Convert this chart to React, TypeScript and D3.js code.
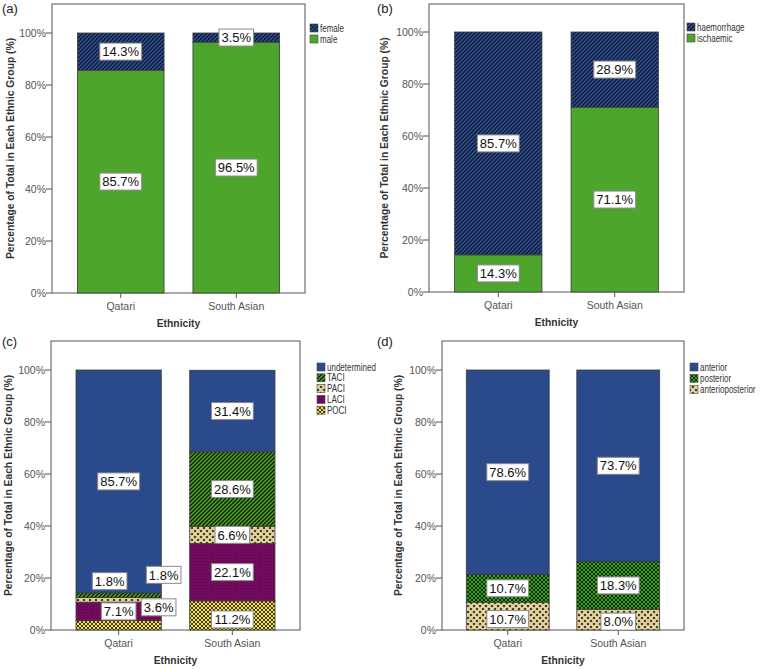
import React from "react";
import * as d3 from "d3";

// ---------- data ----------
const categories = ["Qatari", "South Asian"];
const yTicks = [0, 20, 40, 60, 80, 100];

// (a) sex
const maleValues = [85.7, 96.5];
const femaleValues = [14.3, 3.5];
// (b) stroke type
const ischaemicValues = [14.3, 71.1];
const haemorrhageValues = [85.7, 28.9];
// (c) OCSP classification
const pociValues = [3.6, 11.2];
const laciValues = [7.1, 22.1];
const paciValues = [1.8, 6.6];
const taciValues = [1.8, 28.6];
const undeterminedValues = [85.7, 31.4];
// (d) circulation
const anterioposteriorValues = [10.7, 8.0];
const posteriorValues = [10.7, 18.3];
const anteriorValues = [78.6, 73.7];

type Series = { key: string; values: number[]; fill: string };
type Nudge = { series: string; cat: number; dx: number; dy: number };

type PanelCfg = {
  tag: string;
  tagX: number;
  tagY: number;
  left: number;
  right: number;
  top: number;
  axisY: number;
  y100: number;
  series: Series[]; // bottom to top
  legendX: number;
  legendY: number;
  legendStep: number;
  titleX: number;
  nudges: Nudge[];
};

const panels: PanelCfg[] = [
  {
    tag: "(a)", tagX: 2, tagY: 13, left: 52, right: 305, top: 4, axisY: 293, y100: 33,
    series: [
      { key: "male", values: maleValues, fill: "url(#greenSolid)" },
      { key: "female", values: femaleValues, fill: "url(#navyStripe)" },
    ],
    legendX: 310, legendY: 24, legendStep: 11, titleX: 10, nudges: [],
  },
  {
    tag: "(b)", tagX: 377, tagY: 13, left: 429, right: 684, top: 4, axisY: 292, y100: 32,
    series: [
      { key: "ischaemic", values: ischaemicValues, fill: "url(#greenSolid)" },
      { key: "haemorrhage", values: haemorrhageValues, fill: "url(#navyStripe)" },
    ],
    legendX: 687, legendY: 23, legendStep: 11, titleX: 384, nudges: [],
  },
  {
    tag: "(c)", tagX: 2, tagY: 346, left: 51, right: 300, top: 341, axisY: 630, y100: 370,
    series: [
      { key: "POCI", values: pociValues, fill: "url(#yellowCheck)" },
      { key: "LACI", values: laciValues, fill: "url(#purpleFine)" },
      { key: "PACI", values: paciValues, fill: "url(#tanDots)" },
      { key: "TACI", values: taciValues, fill: "url(#greenStripe)" },
      { key: "undetermined", values: undeterminedValues, fill: "#2b4a8c" },
    ],
    legendX: 317, legendY: 363, legendStep: 10.8, titleX: 8,
    nudges: [
      { series: "POCI", cat: 0, dx: 40, dy: -18 },
      { series: "PACI", cat: 0, dx: 45, dy: -25 },
      { series: "TACI", cat: 0, dx: -9, dy: -14 },
      { series: "POCI", cat: 1, dx: 0, dy: 4 },
    ],
  },
  {
    tag: "(d)", tagX: 377, tagY: 346, left: 442, right: 684, top: 341, axisY: 630, y100: 370,
    series: [
      { key: "anterioposterior", values: anterioposteriorValues, fill: "url(#tanDots)" },
      { key: "posterior", values: posteriorValues, fill: "url(#greenCheck)" },
      { key: "anterior", values: anteriorValues, fill: "#2b4a8c" },
    ],
    legendX: 690, legendY: 363, legendStep: 11.3, titleX: 398,
    nudges: [
      { series: "anterioposterior", cat: 0, dx: 0, dy: 3 },
      { series: "anterioposterior", cat: 1, dx: 0, dy: 2 },
    ],
  },
];

const SANS = "'Liberation Sans', Arial, Helvetica, sans-serif";

function textWidth(s: string, size: number) {
  let w = 0;
  for (const ch of s) {
    if (ch === ".") w += 0.278;
    else if (ch === "%") w += 0.889;
    else w += 0.556;
  }
  return w * size;
}

function Panel({ cfg }: { cfg: PanelCfg }) {
  const x = d3
    .scaleBand<string>()
    .domain(categories)
    .range([cfg.left, cfg.right])
    .paddingInner(0.25)
    .paddingOuter(0.22);
  const y = d3.scaleLinear().domain([0, 100]).range([cfg.axisY, cfg.y100]);

  const rows = categories.map((c, i) => {
    const r: Record<string, number | string> = { cat: c };
    cfg.series.forEach((s) => (r[s.key] = s.values[i]));
    return r;
  });
  const stacked = d3.stack<any>().keys(cfg.series.map((s) => s.key))(rows);
  const midY = (cfg.top + cfg.axisY) / 2;
  const midX = (cfg.left + cfg.right) / 2;
  const labelSize = 13;

  return (
    <g>
      <text x={cfg.tagX} y={cfg.tagY} fontFamily={SANS} fontSize={13} fill="#222">
        {cfg.tag}
      </text>
      {/* frame */}
      <rect
        x={cfg.left}
        y={cfg.top}
        width={cfg.right - cfg.left}
        height={cfg.axisY - cfg.top}
        fill="#fff"
        stroke="#555"
        strokeWidth={1}
      />
      {/* bars */}
      {stacked.map((layer, li) =>
        layer.map((d, ci) => (
          <rect
            key={`${li}-${ci}`}
            x={x(categories[ci])}
            y={y(d[1])}
            width={x.bandwidth()}
            height={y(d[0]) - y(d[1])}
            fill={cfg.series[li].fill}
            stroke="#3a3a3a"
            strokeWidth={0.8}
          />
        ))
      )}
      {/* y axis ticks */}
      {yTicks.map((t) => (
        <g key={t}>
          <line x1={cfg.left - 6} x2={cfg.left} y1={y(t)} y2={y(t)} stroke="#555" />
          <text
            x={cfg.left - 6}
            y={y(t)}
            dy="0.36em"
            textAnchor="end"
            fontFamily={SANS}
            fontSize={10.5}
            fill="#555"
          >
            {t}%
          </text>
        </g>
      ))}
      {/* x axis ticks */}
      {categories.map((c) => (
        <g key={c}>
          <line
            x1={x(c)! + x.bandwidth() / 2}
            x2={x(c)! + x.bandwidth() / 2}
            y1={cfg.axisY}
            y2={cfg.axisY + 5}
            stroke="#555"
          />
          <text
            x={x(c)! + x.bandwidth() / 2}
            y={cfg.axisY + 17}
            textAnchor="middle"
            fontFamily={SANS}
            fontSize={10.5}
            fill="#555"
          >
            {c}
          </text>
        </g>
      ))}
      <text
        x={midX}
        y={cfg.axisY + 34}
        textAnchor="middle"
        fontFamily={SANS}
        fontSize={10.3}
        fontWeight="bold"
        fill="#333"
      >
        Ethnicity
      </text>
      <text
        transform={`translate(${cfg.titleX},${midY}) rotate(-90)`}
        textAnchor="middle"
        dy="0.36em"
        fontFamily={SANS}
        fontSize={10.3}
        fontWeight="bold"
        fill="#333"
      >
        Percentage of Total in Each Ethnic Group (%)
      </text>
      {/* value labels */}
      {stacked.map((layer, li) =>
        layer.map((d, ci) => {
          const key = cfg.series[li].key;
          const v = cfg.series[li].values[ci];
          const nd = cfg.nudges.find((n) => n.series === key && n.cat === ci);
          const cx = x(categories[ci])! + x.bandwidth() / 2 + (nd ? nd.dx : 0);
          const cy = y((d[0] + d[1]) / 2) + (nd ? nd.dy : 0);
          const txt = `${v.toFixed(1)}%`;
          const w = textWidth(txt, labelSize) + 5;
          const h = 17;
          return (
            <g key={`l-${li}-${ci}`}>
              <rect
                x={cx - w / 2}
                y={cy - h / 2}
                width={w}
                height={h}
                fill="#fff"
                stroke="#888"
                strokeWidth={1}
              />
              <text
                x={cx}
                y={cy}
                dy="0.36em"
                textAnchor="middle"
                fontFamily={SANS}
                fontSize={labelSize}
                fill="#111"
              >
                {txt}
              </text>
            </g>
          );
        })
      )}
      {/* legend */}
      {[...cfg.series].reverse().map((s, i) => (
        <g key={s.key}>
          <rect
            x={cfg.legendX}
            y={cfg.legendY + i * cfg.legendStep}
            width={8}
            height={8}
            fill={s.fill}
            stroke="#444"
            strokeWidth={0.6}
          />
          <text
            transform={`translate(${cfg.legendX + 10},${cfg.legendY + i * cfg.legendStep + 7.5}) scale(0.8,1)`}
            fontFamily={SANS}
            fontSize={10}
            fill="#333"
          >
            {s.key}
          </text>
        </g>
      ))}
    </g>
  );
}

export default function App() {
  return (
    <svg
      width={760}
      height={669}
      style={{ position: "absolute", left: 0, top: 0, background: "#fff" }}
    >
      <defs>
        <pattern id="greenSolid" width={4} height={4} patternUnits="userSpaceOnUse">
          <rect width={4} height={4} fill="#4ea52b" />
        </pattern>
        <pattern id="navyStripe" width={4} height={4} patternUnits="userSpaceOnUse">
          <rect width={4} height={4} fill="#2f5194" />
          <path d="M-1,1 l2,-2 M0,4 l4,-4 M3,5 l2,-2" stroke="#0e1830" strokeWidth={1.3} />
        </pattern>
        <pattern id="greenStripe" width={4} height={4} patternUnits="userSpaceOnUse">
          <rect width={4} height={4} fill="#4ea52b" />
          <path d="M-1,1 l2,-2 M0,4 l4,-4 M3,5 l2,-2" stroke="#0d1a08" strokeWidth={1.3} />
        </pattern>
        <pattern id="yellowCheck" width={4} height={4} patternUnits="userSpaceOnUse">
          <rect width={4} height={4} fill="#f0e15a" />
          <path d="M-1,1 l2,-2 M0,4 l4,-4 M3,5 l2,-2 M-1,3 l2,2 M0,0 l4,4 M3,-1 l2,2" stroke="#4a3e12" strokeWidth={1} />
        </pattern>
        <pattern id="greenCheck" width={4} height={4} patternUnits="userSpaceOnUse">
          <rect width={4} height={4} fill="#3f9c22" />
          <path d="M-1,1 l2,-2 M0,4 l4,-4 M3,5 l2,-2 M-1,3 l2,2 M0,0 l4,4 M3,-1 l2,2" stroke="#0b2605" strokeWidth={0.9} />
        </pattern>
        <pattern id="tanDots" width={6} height={6} patternUnits="userSpaceOnUse">
          <rect width={6} height={6} fill="#e5d7a4" />
          <circle cx={0} cy={0} r={1.3} fill="#4d3f22" />
          <circle cx={6} cy={0} r={1.3} fill="#4d3f22" />
          <circle cx={0} cy={6} r={1.3} fill="#4d3f22" />
          <circle cx={6} cy={6} r={1.3} fill="#4d3f22" />
          <circle cx={3} cy={3} r={1.3} fill="#4d3f22" />
        </pattern>
        <pattern id="purpleFine" width={3} height={3} patternUnits="userSpaceOnUse">
          <rect width={3} height={3} fill="#720b5e" />
          <rect x={0} y={0} width={1} height={1} fill="#5a0649" />
        </pattern>
      </defs>
      {panels.map((p) => (
        <Panel key={p.tag} cfg={p} />
      ))}
    </svg>
  );
}
